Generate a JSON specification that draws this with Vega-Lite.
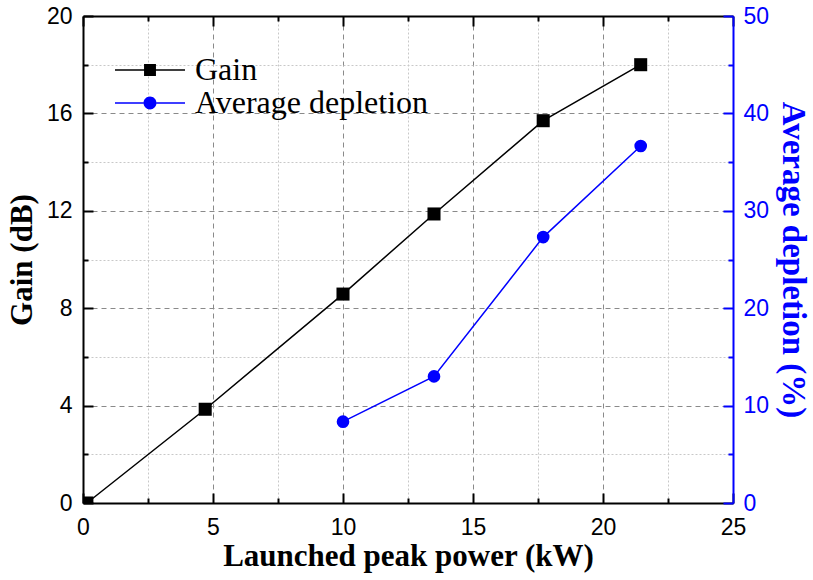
{
  "$schema": "https://vega.github.io/schema/vega-lite/v6.json",
  "width": 650,
  "height": 487,
  "autosize": "none",
  "padding": {"left": 83, "top": 16, "right": 80, "bottom": 77},
  "background": "white",
  "config": {
    "view": {"stroke": null},
    "axis": {
      "labelFont": "Liberation Sans",
      "labelFontSize": 23,
      "labelColor": "black",
      "labelFlush": false,
      "labelOverlap": false,
      "titleFont": "Liberation Serif",
      "titleFontSize": 31,
      "titleFontWeight": "bold",
      "titleColor": "black",
      "domainColor": "black",
      "domainWidth": 2,
      "tickColor": "black",
      "tickWidth": 2
    }
  },
  "datasets": {
    "d": [
      {"power": 0.15, "value": 0, "series": "Gain"},
      {"power": 4.7, "value": 3.85, "series": "Gain"},
      {"power": 10, "value": 8.58, "series": "Gain"},
      {"power": 13.5, "value": 11.87, "series": "Gain"},
      {"power": 17.7, "value": 15.7, "series": "Gain"},
      {"power": 21.45, "value": 18.0, "series": "Gain"},
      {"power": 10, "value": 8.35, "series": "Average depletion"},
      {"power": 13.5, "value": 13.0, "series": "Average depletion"},
      {"power": 17.7, "value": 27.3, "series": "Average depletion"},
      {"power": 21.45, "value": 36.65, "series": "Average depletion"}
    ]
  },
  "data": {"name": "d"},
  "layer": [
    {
      "transform": [{"filter": "datum.series === 'Gain'"}],
      "encoding": {
        "y": {
          "field": "value",
          "type": "quantitative",
          "scale": {"domain": [0, 20], "nice": false, "zero": false},
          "axis": {
            "orient": "left",
            "values": [0, 2, 4, 6, 8, 10, 12, 14, 16, 18, 20],
            "labelExpr": "datum.value % 4 === 0 ? datum.label : ''",
            "grid": true,
            "gridColor": {"condition": {"test": "datum.value % 4 === 0", "value": "#8a8a8a"}, "value": "#c8c8c8"},
            "gridDash": {"condition": {"test": "datum.value % 4 === 0", "value": [5, 4]}, "value": [2, 2]},
            "gridWidth": 1,
            "tickSize": {"condition": {"test": "datum.value % 4 === 0", "value": -10}, "value": -5},
            "labelPadding": 21,
            "title": "Gain (dB)",
            "titlePadding": 8
          }
        }
      },
      "layer": [
        {
          "mark": {"type": "line", "color": "black", "strokeWidth": 1.5},
          "encoding": {
            "x": {
              "field": "power",
              "type": "quantitative",
              "scale": {"domain": [0, 25], "nice": false, "zero": false},
              "axis": {
                "orient": "bottom",
                "values": [0, 2.5, 5, 7.5, 10, 12.5, 15, 17.5, 20, 22.5, 25],
                "labelExpr": "datum.value % 5 === 0 ? datum.label : ''",
                "grid": true,
                "gridColor": {"condition": {"test": "datum.value % 5 === 0", "value": "#8a8a8a"}, "value": "#c8c8c8"},
                "gridDash": {"condition": {"test": "datum.value % 5 === 0", "value": [5, 4]}, "value": [2, 2]},
                "gridWidth": 1,
                "tickSize": {"condition": {"test": "datum.value % 5 === 0", "value": -10}, "value": -5},
                "labelPadding": 23,
                "title": "Launched peak power (kW)",
                "titlePadding": -3
              }
            }
          }
        },
        {
          "mark": {"type": "point", "shape": "square", "filled": true, "color": "black", "size": 170, "opacity": 1, "clip": true},
          "encoding": {
            "x": {
              "field": "power",
              "type": "quantitative",
              "scale": {"domain": [0, 25], "nice": false, "zero": false},
              "axis": {
                "orient": "top",
                "values": [0, 2.5, 5, 7.5, 10, 12.5, 15, 17.5, 20, 22.5, 25],
                "labels": false,
                "grid": false,
                "tickSize": {"condition": {"test": "datum.value % 5 === 0", "value": -10}, "value": -5},
                "title": null
              }
            }
          }
        }
      ]
    },
    {
      "transform": [{"filter": "datum.series === 'Average depletion'"}],
      "encoding": {
        "x": {
          "field": "power",
          "type": "quantitative",
          "scale": {"domain": [0, 25], "nice": false, "zero": false},
          "axis": null
        },
        "y": {
          "field": "value",
          "type": "quantitative",
          "scale": {"domain": [0, 50], "nice": false, "zero": false},
          "axis": {
            "orient": "right",
            "values": [0, 5, 10, 15, 20, 25, 30, 35, 40, 45, 50],
            "labelExpr": "datum.value % 10 === 0 ? datum.label : ''",
            "grid": false,
            "tickSize": {"condition": {"test": "datum.value % 10 === 0", "value": -10}, "value": -5},
            "tickColor": "blue",
            "domainColor": "blue",
            "labelColor": "blue",
            "titleColor": "blue",
            "labelPadding": 20,
            "title": "Average depletion (%)",
            "titleFontSize": 33,
            "titlePadding": 7
          }
        }
      },
      "layer": [
        {"mark": {"type": "line", "color": "blue", "strokeWidth": 1.5}},
        {"mark": {"type": "point", "shape": "circle", "filled": true, "color": "blue", "size": 160, "opacity": 1}}
      ]
    },
    {
      "transform": [{"filter": "false"}],
      "mark": {"type": "point", "filled": true, "opacity": 1},
      "encoding": {
        "color": {
          "field": "series",
          "type": "nominal",
          "scale": {"domain": ["Gain", "Average depletion"], "range": ["black", "blue"]},
          "legend": {
            "orient": "none",
            "legendX": 50,
            "legendY": 37,
            "title": null,
            "symbolSize": 1156,
            "symbolOpacity": 1,
            "symbolStrokeWidth": 0,
            "labelFont": "Liberation Serif",
            "labelFontSize": 32,
            "labelColor": "black",
            "labelOffset": 28,
            "labelLimit": 500,
            "rowPadding": 0,
            "padding": 0
          }
        },
        "shape": {
          "field": "series",
          "type": "nominal",
          "scale": {
            "domain": ["Gain", "Average depletion"],
            "range": [
              "M-2.06,-0.044H-0.35V0.044H-2.06Z M0.35,-0.044H2.06V0.044H0.35Z M-0.35,-0.35H0.35V0.35H-0.35Z",
              "M-2.06,-0.044H-0.38V0.044H-2.06Z M0.38,-0.044H2.06V0.044H0.38Z M-0.38,0A0.38,0.38,0,1,1,0.38,0A0.38,0.38,0,1,1,-0.38,0Z"
            ]
          }
        }
      }
    }
  ],
  "resolve": {"scale": {"y": "independent"}}
}
